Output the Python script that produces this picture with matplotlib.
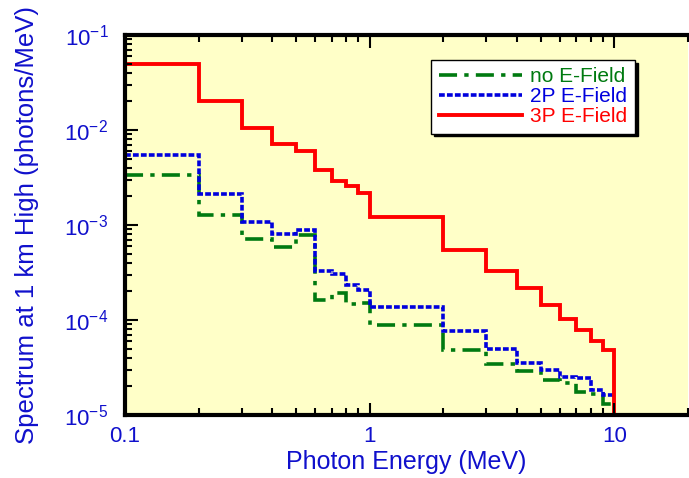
import numpy as np
import matplotlib.pyplot as plt
from matplotlib.ticker import LogLocator, LogFormatterMathtext, NullFormatter

# energy bin edges (MeV)
edges = [0.1, 0.2, 0.3, 0.4, 0.5, 0.6, 0.7, 0.8, 0.9, 1.0,
         2.0, 3.0, 4.0, 5.0, 6.0, 7.0, 8.0, 9.0, 10.0]

# spectra per bin (photons/MeV)
noField = [3.36e-3, 1.26e-3, 7.2e-4, 5.8e-4, 7.85e-4, 1.61e-4, 1.94e-4, 1.49e-4, 1.51e-4,
           8.8e-5, 4.8e-5, 3.42e-5, 2.9e-5, 2.34e-5, 2.15e-5, 1.73e-5, 1.66e-5, 1.31e-5]
field2P = [5.4e-3, 2.12e-3, 1.07e-3, 7.97e-4, 8.86e-4, 3.25e-4, 3.02e-4, 2.32e-4, 2.05e-4,
           1.36e-4, 7.6e-5, 5.0e-5, 3.5e-5, 2.95e-5, 2.49e-5, 2.43e-5, 1.83e-5, 1.61e-5]
field3P = [5.0e-2, 2.02e-2, 1.04e-2, 7.06e-3, 6.0e-3, 3.77e-3, 2.93e-3, 2.58e-3, 2.16e-3,
           1.22e-3, 5.45e-4, 3.25e-4, 2.17e-4, 1.43e-4, 1.02e-4, 7.8e-5, 6.05e-5, 4.83e-5]

labels = ['no E-Field', '2P E-Field', '3P E-Field']
colors = ['#007a10', '#0000dd', '#ff0000']
textBlue = '#1010cc'

plt.rcParams['font.family'] = ['Liberation Sans', 'DejaVu Sans']
plt.rcParams['mathtext.fontset'] = 'custom'
plt.rcParams['mathtext.rm'] = 'Liberation Sans'

fig = plt.figure(figsize=(6.89, 4.78), dpi=100)
ax = fig.add_axes([0.1814, 0.1318, 0.8171, 0.795])
ax.set_facecolor('#ffffc8')

ax.stairs(noField, edges, color=colors[0], lw=2.6, ls=(0, (5, 2, 1.2, 2)),
          baseline=None, label=labels[0])
ax.stairs(field2P, edges, color=colors[1], lw=2.6, ls=(0, (1.6, 0.6)),
          baseline=None, label=labels[1])
ax.stairs(field3P, edges, color=colors[2], lw=2.8, baseline=1e-7, label=labels[2])

ax.set_xscale('log')
ax.set_yscale('log')
ax.set_xlim(0.1, 20)
ax.set_ylim(1e-5, 1e-1)

ax.xaxis.set_major_locator(LogLocator(base=10, numticks=10))
ax.xaxis.set_major_formatter(plt.FuncFormatter(lambda v, p: '%g' % v))
ax.xaxis.set_minor_locator(LogLocator(base=10, subs=np.arange(2, 10), numticks=10))
ax.xaxis.set_minor_formatter(NullFormatter())
ax.yaxis.set_major_formatter(LogFormatterMathtext())
ax.yaxis.set_minor_locator(LogLocator(base=10, subs=np.arange(2, 10), numticks=10))
ax.yaxis.set_minor_formatter(NullFormatter())

ax.tick_params(which='both', direction='in', top=True, right=False,
               colors='black', labelcolor=textBlue, labelsize=16, width=1.5)
ax.tick_params(which='major', length=9, pad=12)
ax.tick_params(which='minor', length=5)
ax.tick_params(axis='x', which='major', pad=8)
for side in ['left', 'bottom', 'top']:
    ax.spines[side].set_linewidth(3)
ax.spines['right'].set_visible(False)

ax.set_xlabel('Photon Energy (MeV)', fontsize=18, color=textBlue, labelpad=2)
ax.set_ylabel('Spectrum at 1 km High (photons/MeV)', fontsize=18.5, color=textBlue, labelpad=18)

leg = ax.legend(loc='upper right', bbox_to_anchor=(0.924, 0.962), fontsize=15,
                frameon=True, fancybox=False, shadow={'color': 'black', 'alpha': 1},
                edgecolor='black', framealpha=1, handlelength=4.0, handletextpad=0.4,
                borderpad=0.35, labelspacing=0.05)
leg.get_frame().set_linewidth(1)
for txt, c in zip(leg.get_texts(), colors):
    txt.set_color(c)

fig.savefig('out.png', dpi=100)
